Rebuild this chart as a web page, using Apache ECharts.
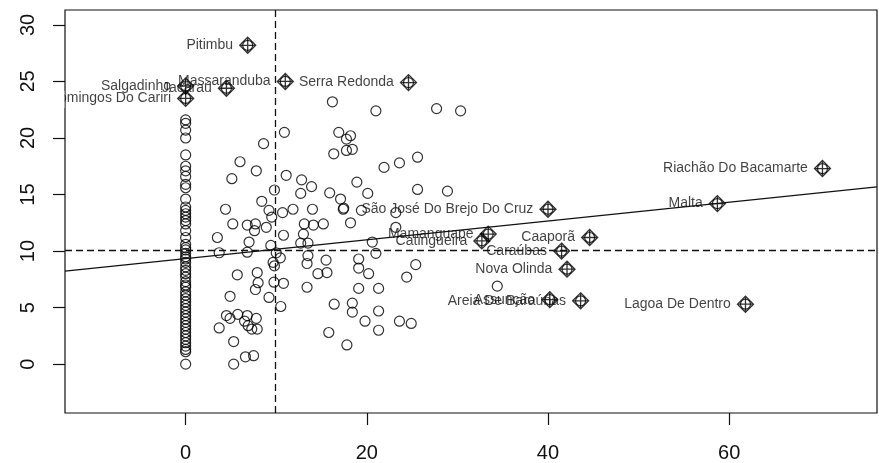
<!DOCTYPE html>
<html>
<head>
<meta charset="utf-8">
<script src="https://cdn.jsdelivr.net/npm/echarts@6/dist/echarts.min.js"></script>
<style>
html,body{margin:0;padding:0;background:#fff;}
#chart{width:879px;height:463px;}
</style>
</head>
<body>
<div id="chart"></div>
<script>
// ---- data ----
const xTicks = [0, 20, 40, 60];
const yTicks = [0, 5, 10, 15, 20, 25, 30];

// points at x = 0 (vertical column)
const zeroColumnY = [21.6, 21.3, 20.7, 20.0, 18.5, 17.5, 17.1, 16.6, 15.9, 15.6, 14.6, 13.9, 13.6, 13.3, 13.0, 12.7, 12.4, 11.8, 11.2, 10.6, 10.3, 10.1, 9.8, 9.5, 9.3, 9.0, 8.6, 8.3, 8.0, 7.7, 7.3, 7.0, 6.8, 6.4, 6.1, 5.8, 5.5, 5.2, 4.9, 4.6, 4.3, 4.0, 3.7, 3.4, 3.1, 2.8, 2.5, 2.2, 1.9, 1.6, 1.3, 1.1, 0.0];

// other ordinary points [x, lagged x]
const otherPoints = [
  [3.5,11.2],[3.7,9.85],[3.7,3.2],[4.4,13.7],[4.5,4.3],[4.9,4.05],[4.9,6.0],[5.1,16.4],[5.2,12.4],[5.3,2.0],
  [5.3,0.0],[5.7,7.9],[5.75,4.4],[6.0,17.9],[6.5,3.8],[6.6,0.65],[6.8,12.3],[6.8,4.3],[6.8,9.9],[6.9,3.4],
  [7.0,10.8],[7.3,3.1],[7.5,0.75],[7.6,11.8],[7.7,12.4],[7.7,6.6],[7.8,4.05],[7.8,17.1],[7.9,3.1],[7.9,8.1],
  [8.0,7.2],[8.4,14.4],[8.6,19.5],[8.9,12.1],[9.2,13.6],[9.2,5.9],[9.4,10.5],[9.5,13.0],[9.65,9.0],[9.8,8.7],
  [9.75,7.25],[9.8,15.4],[10.0,9.85],[10.45,9.4],[10.5,5.1],[10.7,13.4],[10.8,11.4],[10.8,7.15],[10.9,20.5],[11.1,16.7],
  [11.85,13.7],[12.7,15.1],[12.8,16.3],[12.7,10.7],[13.0,11.5],[13.1,12.4],[13.4,6.8],[13.4,8.9],[13.5,9.6],[13.5,10.7],
  [13.9,15.7],[14.0,13.7],[14.1,12.3],[14.6,8.0],[15.2,12.4],[15.5,9.2],[15.6,8.1],[15.8,2.8],[15.9,15.15],[16.2,23.2],
  [16.35,18.6],[16.4,5.3],[16.9,20.5],[17.1,14.6],[17.4,13.7],[17.45,13.8],[17.75,18.9],[17.75,19.9],[17.8,1.7],[18.2,20.2],
  [18.2,12.5],[18.4,19.0],[18.4,5.4],[18.4,4.6],[18.9,16.1],[19.1,9.3],[19.1,8.5],[19.1,6.7],[19.4,13.6],[19.8,3.8],
  [20.1,15.1],[20.2,8.0],[20.6,10.8],[21.0,22.4],[21.0,9.8],[21.3,6.7],[21.3,4.7],[21.3,3.0],[21.9,17.4],[23.2,13.4],
  [23.2,12.1],[23.6,17.8],[23.6,3.8],[24.4,7.7],[24.9,3.6],[25.4,8.8],[25.6,18.3],[25.6,15.45],[27.7,22.6],[28.9,15.3],
  [30.35,22.4],[34.4,6.9]
];

// influential (labelled) points
const labelNames = ["Pitimbu", "Massaranduba", "Jacaraú", "Salgadinho", "São Domingos Do Cariri", "Serra Redonda",
  "Riachão Do Bacamarte", "Malta", "São José Do Brejo Do Cruz", "Mamanguape", "Catingueira", "Caaporã",
  "Caraúbas", "Nova Olinda", "Assunção", "Areia De Baraúnas", "Lagoa De Dentro"];
const labelX = [6.85, 11.0, 4.5, 0, 0, 24.6, 70.3, 58.7, 40.0, 33.4, 32.7, 44.6, 41.5, 42.1, 40.2, 43.6, 61.8];
const labelY = [28.2, 25.0, 24.4, 24.6, 23.5, 24.9, 17.3, 14.2, 13.7, 11.5, 10.9, 11.2, 10.0, 8.4, 5.7, 5.6, 5.3];

// regression line and means
const regIntercept = 9.34;
const regSlope = 0.083;
const meanX = 9.94;
const meanWX = 10.06;

const xMin = -13.32, xMax = 76.32, yMin = -4.32, yMax = 31.32;

// ---- build ----
const circleData = [];
zeroColumnY.forEach(y => circleData.push([0, y]));
otherPoints.forEach(p => circleData.push(p));
labelX.forEach((x, i) => circleData.push([x, labelY[i]]));

const inflData = labelNames.map((n, i) => ({ name: n, value: [labelX[i], labelY[i]] }));
const regData = [[xMin, regIntercept + regSlope * xMin], [xMax, regIntercept + regSlope * xMax]];

const FONT = "'Liberation Sans', Arial, sans-serif";
const chart = echarts.init(document.getElementById('chart'), null, { renderer: 'canvas' });
chart.setOption({
  animation: false,
  backgroundColor: '#fff',
  grid: { left: 65, right: 2, top: 10, bottom: 49, show: true, borderColor: '#111', borderWidth: 1.2, backgroundColor: 'transparent' },
  xAxis: {
    type: 'value', min: xMin, max: xMax,
    splitLine: { show: false },
    axisLine: { show: false, onZero: false },
    axisTick: { show: true, inside: false, length: 12, customValues: xTicks, lineStyle: { color: '#111', width: 1.2 } },
    axisLabel: { customValues: xTicks, fontSize: 20, fontFamily: FONT, color: '#111', margin: 30 }
  },
  yAxis: {
    type: 'value', min: yMin, max: yMax,
    splitLine: { show: false },
    axisLine: { show: false, onZero: false },
    axisTick: { show: true, inside: false, length: 12, customValues: yTicks, lineStyle: { color: '#111', width: 1.2 } },
    axisLabel: { customValues: yTicks, fontSize: 20, fontFamily: FONT, color: '#111', rotate: 90, margin: 27 }
  },
  series: [
    {
      type: 'line', data: regData, symbol: 'none', silent: true,
      lineStyle: { color: '#111', width: 1.3 },
      markLine: {
        silent: true, symbol: 'none', label: { show: false },
        lineStyle: { color: '#111', width: 1.3, type: [7, 4] },
        data: [{ xAxis: meanX }, { yAxis: meanWX }]
      }
    },
    {
      type: 'scatter', data: circleData, symbol: 'circle', symbolSize: 10, silent: true,
      itemStyle: { color: 'transparent', borderColor: '#000', borderWidth: 1.2 }
    },
    {
      type: 'scatter', data: inflData, silent: true,
      symbol: 'path://M0,-10L10,0L0,10L-10,0Z M0,-10L0,10 M-10,0L10,0',
      symbolSize: 16,
      itemStyle: { color: 'transparent', borderColor: '#000', borderWidth: 1.3 },
      label: { show: true, position: 'left', distance: 6, formatter: '{b}', fontSize: 14, fontFamily: FONT, color: '#111' },
      labelLayout: { hideOverlap: false }
    }
  ],
  graphic: [
    { type: 'rect', z: 100, shape: { x: 0, y: 91, width: 64.4, height: 17 }, style: { fill: '#fff' } }
  ]
});
</script>
</body>
</html>
